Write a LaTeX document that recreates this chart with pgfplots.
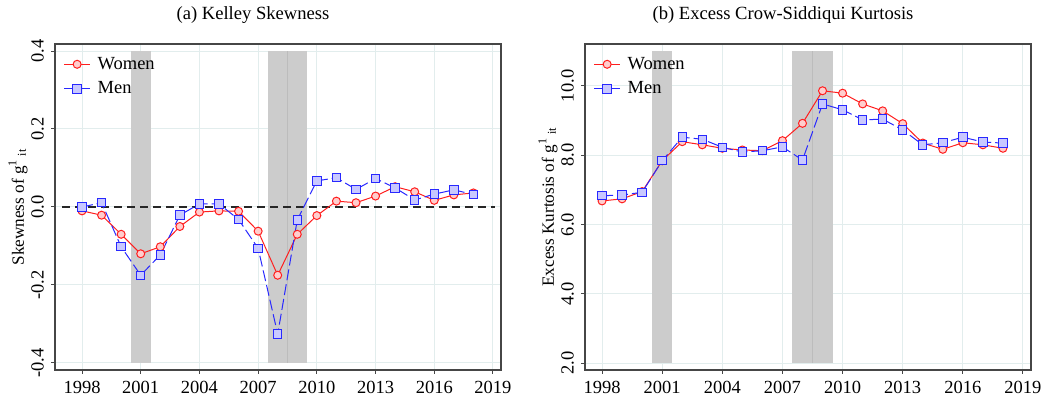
\documentclass[border=0pt]{standalone}
\usepackage{fontspec}
\setmainfont{Liberation Serif}
\usepackage{pgfplots}
\pgfplotsset{compat=1.18}

\definecolor{wred}{RGB}{255,30,30}
\definecolor{wredfill}{RGB}{255,205,205}
\definecolor{mblue}{RGB}{40,40,255}
\definecolor{mbluefill}{RGB}{200,200,255}
\definecolor{band}{RGB}{204,204,204}
\definecolor{bandline}{RGB}{188,188,188}
\definecolor{gridc}{RGB}{226,237,237}
\definecolor{framec}{RGB}{70,70,70}

\pgfplotsset{
 mystyle/.style={
   scale only axis, width=223pt, height=163pt,
   axis line style={framec, line width=0.6pt},
   grid=major, major grid style={gridc, line width=0.5pt},
   xtick={1998,2001,2004,2007,2010,2013,2016,2019},
   xticklabels={1998,2001,2004,2007,2010,2013,2016,2019},
   tick style={framec, line width=0.5pt}, tick align=outside, major tick length=2pt,
   xtick pos=bottom, ytick pos=left,
   font=\fontsize{9.25}{11}\selectfont,
   yticklabel style={rotate=90, anchor=south},
   legend style={draw=none, fill=none, at={(0.005,0.985)}, anchor=north west,
     font=\fontsize{9.25}{11}\selectfont,
     nodes={inner sep=1pt, text height=7pt, text depth=2pt}, row sep=1.3pt, column sep=2.5pt},
   legend cell align=left,
   legend image code/.code={\draw[mark repeat=2,mark phase=2,##1] plot coordinates {(0pt,0pt) (6.5pt,0pt) (13pt,0pt)};},
   every axis y label/.style={at={(axis description cs:0,0.5)}, xshift=-18.5pt, rotate=90, anchor=center, font=\fontsize{8.6}{10}\selectfont},
 },
 women/.style={wred, line width=0.5pt, mark=*, mark size=2pt, mark options={fill=wredfill, draw=wred, solid}},
 men/.style={mblue, line width=0.5pt, dash pattern=on 5.5pt off 2pt, mark=square*, mark size=2.1pt, mark options={fill=mbluefill, draw=mblue, solid}},
}

\begin{document}
\begin{tikzpicture}
\useasboundingbox (0,0) rectangle (529.5pt,200pt);

\node at (126.5pt,192.5pt) {\fontsize{9.3}{11}\selectfont (a) Kelley Skewness};
\node at (391.5pt,192.5pt) {\fontsize{9.3}{11}\selectfont (b) Excess Crow-Siddiqui Kurtosis};

\begin{axis}[mystyle, at={(27.5pt,15pt)}, anchor=south west,
  xmin=1996.62, xmax=2019.41, ymin=-0.418, ymax=0.418,
  ytick={-0.4,-0.2,0,0.2,0.4}, yticklabels={-0.4,-0.2,0.0,0.2,0.4},
  ylabel={Skewness of g\textsuperscript{1}\,\textsubscript{it}}]
\addplot[fill=band, draw=none, forget plot] coordinates {(2000.5,-0.4) (2001.5,-0.4) (2001.5,0.4) (2000.5,0.4)} -- cycle;
\addplot[fill=band, draw=none, forget plot] coordinates {(2007.5,-0.4) (2009.5,-0.4) (2009.5,0.4) (2007.5,0.4)} -- cycle;
\addplot[bandline, line width=0.5pt, forget plot] coordinates {(2008.5,-0.4) (2008.5,0.4)};
\addplot[black!85, line width=0.7pt, dash pattern=on 4pt off 2.5pt, forget plot] coordinates {(1997,0) (2019.1,0)};
\addplot[women] coordinates {
(1998,-0.010) (1999,-0.021) (2000,-0.070) (2001,-0.120) (2002,-0.102) (2003,-0.050)
(2004,-0.013) (2005,-0.010) (2006,-0.011) (2007,-0.062) (2008,-0.175) (2009,-0.070)
(2010,-0.022) (2011,0.015) (2012,0.011) (2013,0.028) (2014,0.052) (2015,0.039)
(2016,0.017) (2017,0.031) (2018,0.036)};
\addlegendentry{Women}
\addplot[men] coordinates {
(1998,0.000) (1999,0.011) (2000,-0.102) (2001,-0.175) (2002,-0.123) (2003,-0.021)
(2004,0.008) (2005,0.008) (2006,-0.032) (2007,-0.106) (2008,-0.326) (2009,-0.033)
(2010,0.067) (2011,0.075) (2012,0.045) (2013,0.073) (2014,0.049) (2015,0.018)
(2016,0.033) (2017,0.044) (2018,0.032)};
\addlegendentry{Men}
\end{axis}

\begin{axis}[mystyle, at={(292.5pt,15pt)}, anchor=south west,
  xmin=1997.15, xmax=2019.4, ymin=1.80, ymax=11.21,
  ytick={2,4,6,8,10}, yticklabels={2.0,4.0,6.0,8.0,10.0},
  ylabel={Excess Kurtosis of g\textsuperscript{1}\,\textsubscript{it}}]
\addplot[fill=band, draw=none, forget plot] coordinates {(2000.5,2) (2001.5,2) (2001.5,11) (2000.5,11)} -- cycle;
\addplot[fill=band, draw=none, forget plot] coordinates {(2007.5,2) (2009.5,2) (2009.5,11) (2007.5,11)} -- cycle;
\addplot[bandline, line width=0.5pt, forget plot] coordinates {(2008.5,2) (2008.5,11)};
\addplot[women] coordinates {
(1998,6.68) (1999,6.74) (2000,6.95) (2001,7.84) (2002,8.39) (2003,8.30)
(2004,8.20) (2005,8.15) (2006,8.13) (2007,8.42) (2008,8.92) (2009,9.86)
(2010,9.79) (2011,9.48) (2012,9.28) (2013,8.91) (2014,8.35) (2015,8.17)
(2016,8.36) (2017,8.30) (2018,8.20)};
\addlegendentry{Women}
\addplot[men] coordinates {
(1998,6.83) (1999,6.85) (2000,6.93) (2001,7.84) (2002,8.52) (2003,8.46)
(2004,8.23) (2005,8.09) (2006,8.13) (2007,8.24) (2008,7.86) (2009,9.48)
(2010,9.31) (2011,9.02) (2012,9.04) (2013,8.73) (2014,8.30) (2015,8.36)
(2016,8.52) (2017,8.38) (2018,8.35)};
\addlegendentry{Men}
\end{axis}
\end{tikzpicture}
\end{document}
